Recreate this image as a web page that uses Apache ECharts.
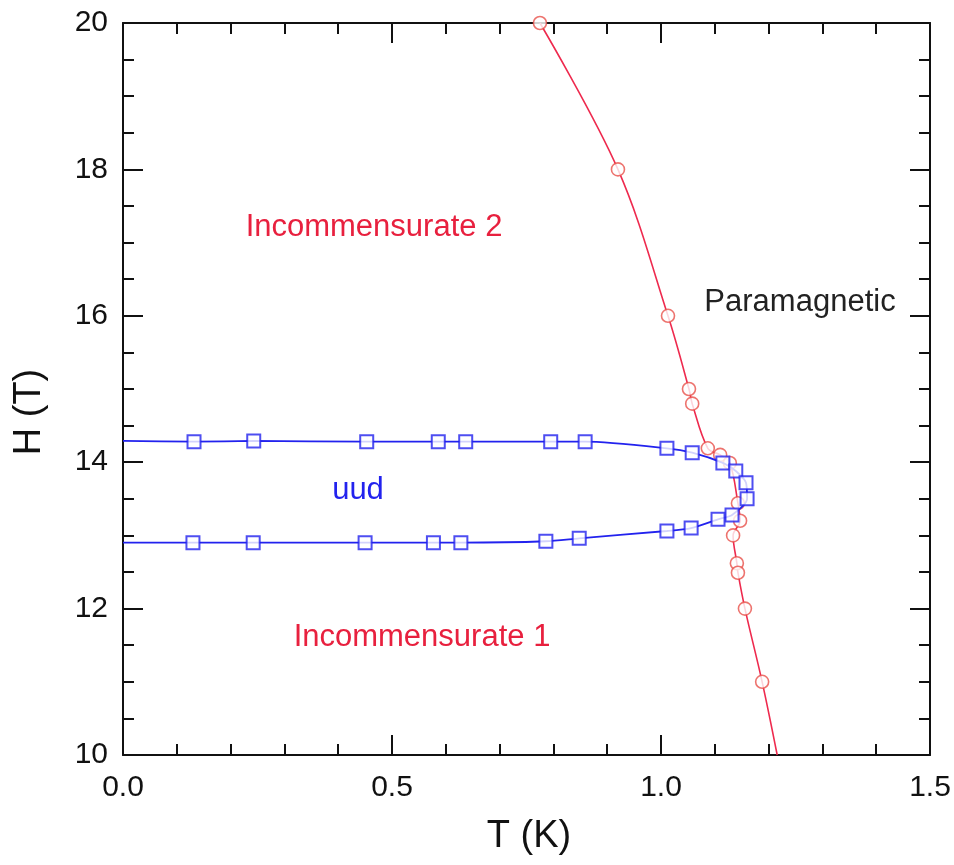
<!DOCTYPE html>
<html>
<head>
<meta charset="utf-8">
<script src="https://cdn.jsdelivr.net/npm/echarts@6/dist/echarts.min.js"></script>
<style>html,body{margin:0;padding:0;background:#fff;}#c{width:954px;height:865px;}</style>
</head>
<body>
<div id="c"></div>
<script>
// Red phase boundary (circles): temperature T (K) and field H (T)
var redT = [0.775, 0.92, 1.013, 1.052, 1.058, 1.087, 1.11, 1.128, 1.143, 1.147, 1.134, 1.141, 1.143, 1.156, 1.188];
var redH = [20.0, 18.0, 16.0, 15.0, 14.8, 14.19, 14.1, 13.99, 13.44, 13.2, 13.0, 12.62, 12.49, 12.0, 11.0];
// Extension of the red guide line down to the bottom axis
var redLineEndT = 1.216, redLineEndH = 10.0;

// Blue uud boundary (squares), traced along the loop: upper branch then lower branch
var blueT = [0.132, 0.243, 0.453, 0.586, 0.637, 0.795, 0.859, 1.011, 1.058, 1.115, 1.139, 1.158, 1.160,
             1.132, 1.106, 1.056, 1.011, 0.848, 0.786, 0.628, 0.577, 0.450, 0.242, 0.130];
var blueH = [14.28, 14.29, 14.28, 14.28, 14.28, 14.28, 14.28, 14.19, 14.13, 13.99, 13.88, 13.72, 13.50,
             13.28, 13.22, 13.10, 13.06, 12.96, 12.92, 12.90, 12.90, 12.90, 12.90, 12.90];
// Guide line ends at T = 0
var blueStart = [0, 14.29], blueEnd = [0, 12.90];

// Axis ranges and tick steps
var xMin = 0, xMax = 1.5, xMajor = 0.5, xMinor = 0.1;
var yMin = 10, yMax = 20, yMajor = 2, yMinor = 0.5;

var redColor = '#ee2a4e';
var blueColor = '#2222ee';
var fontFam = '"Liberation Sans", Arial, sans-serif';

var redPts = redT.map(function (t, i) { return [t, redH[i]]; });
var redLine = redPts.concat([[redLineEndT, redLineEndH]]);
var bluePts = blueT.map(function (t, i) { return [t, blueH[i]]; });
var blueLine = [blueStart].concat(bluePts).concat([blueEnd]);

function axis(min, max, step, pos, tickLen, showLine, showLabel, labelFmt, margin) {
  return {
    type: 'value', min: min, max: max, interval: step, position: pos,
    axisLine: {show: showLine, onZero: false, lineStyle: {color: '#111', width: 2}},
    axisTick: {show: true, inside: true, length: tickLen, lineStyle: {color: '#111', width: 2}},
    minorTick: {show: false},
    splitLine: {show: false},
    axisLabel: showLabel ? {show: true, margin: margin, fontSize: 30, color: '#111', fontFamily: fontFam, formatter: labelFmt} : {show: false}
  };
}
var xFmt = function (v) { return v.toFixed(1); };
var yFmt = function (v) { return String(v); };

var chart = echarts.init(document.getElementById('c'), null, {renderer: 'canvas'});
chart.setOption({
  backgroundColor: '#fff',
  animation: false,
  grid: {left: 123, right: 24, top: 23, bottom: 110, containLabel: false},
  xAxis: [
    axis(xMin, xMax, xMajor, 'bottom', 20, true, true, xFmt, 18),
    axis(xMin, xMax, xMinor, 'bottom', 11, false, false),
    axis(xMin, xMax, xMajor, 'top', 20, true, false),
    axis(xMin, xMax, xMinor, 'top', 11, false, false)
  ],
  yAxis: [
    axis(yMin, yMax, yMajor, 'left', 20, true, true, yFmt, 15),
    axis(yMin, yMax, yMinor, 'left', 11, false, false),
    axis(yMin, yMax, yMajor, 'right', 20, true, false),
    axis(yMin, yMax, yMinor, 'right', 11, false, false)
  ],
  series: [
    {type: 'line', xAxisIndex: 0, yAxisIndex: 0, data: redLine, smooth: 0.35, showSymbol: false, symbol: 'none', clip: true,
     lineStyle: {color: redColor, width: 1.6}, z: 2},
    {type: 'scatter', xAxisIndex: 0, yAxisIndex: 0, data: redPts, symbol: 'circle', symbolSize: 13,
     itemStyle: {color: '#fff', borderColor: '#e8504a', borderWidth: 1.6}, z: 3},
    {type: 'line', xAxisIndex: 0, yAxisIndex: 0, data: blueLine, smooth: 0.25, showSymbol: false, symbol: 'none', clip: true,
     lineStyle: {color: blueColor, width: 1.8}, z: 4},
    {type: 'scatter', xAxisIndex: 0, yAxisIndex: 0, data: bluePts, symbol: 'rect', symbolSize: 13,
     itemStyle: {color: '#fff', borderColor: blueColor, borderWidth: 2}, z: 5}
  ],
  graphic: [
    {type: 'text', x: 374, y: 227, style: {text: 'Incommensurate 2', fill: '#e8203e', font: '31px ' + fontFam, textAlign: 'center', textVerticalAlign: 'middle'}},
    {type: 'text', x: 800, y: 302, style: {text: 'Paramagnetic', fill: '#222', font: '31px ' + fontFam, textAlign: 'center', textVerticalAlign: 'middle'}},
    {type: 'text', x: 358, y: 490, style: {text: 'uud', fill: blueColor, font: '31px ' + fontFam, textAlign: 'center', textVerticalAlign: 'middle'}},
    {type: 'text', x: 422, y: 637, style: {text: 'Incommensurate 1', fill: '#e8203e', font: '31px ' + fontFam, textAlign: 'center', textVerticalAlign: 'middle'}},
    {type: 'text', x: 529, y: 837, style: {text: 'T (K)', fill: '#111', font: '38px ' + fontFam, textAlign: 'center', textVerticalAlign: 'middle'}},
    {type: 'text', x: 30, y: 412, rotation: Math.PI / 2, style: {text: 'H (T)', fill: '#111', font: '38px ' + fontFam, textAlign: 'center', textVerticalAlign: 'middle'}}
  ]
});
</script>
</body>
</html>
